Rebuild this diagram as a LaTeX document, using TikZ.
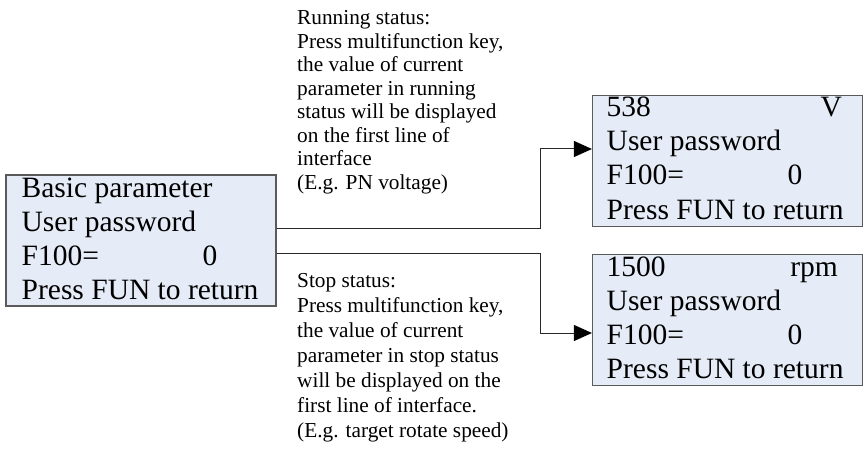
\documentclass[tikz,border=0pt]{standalone}
\usepackage{fontspec}
\setmainfont{Liberation Serif}
\usetikzlibrary{arrows.meta}
\definecolor{lcdfill}{RGB}{230,236,247}
\definecolor{lcdline}{RGB}{90,90,90}
\definecolor{connline}{RGB}{40,40,40}
\tikzset{
  lcd/.style={draw=lcdline, line width=1.2pt, fill=lcdfill, minimum width=270pt, minimum height=131pt, inner sep=0pt},
  lcdtxt/.style={inner sep=0pt, font=\fontsize{29.5}{34}\selectfont, text=black},
  note/.style={inner sep=0pt, align=left, anchor=base west, text=black},
  conn/.style={draw=connline, line width=1pt},
  arr/.style={conn, -{Triangle[length=18pt,width=16pt,color=black,fill=black]}}
}
\begin{document}
\begin{tikzpicture}[x=1pt,y=-1pt]
\useasboundingbox (0,0) rectangle (866,454);

% left display
\node[lcd] (b0) at (141,240.5) {};
\node[lcdtxt, anchor=base west] (b0l1) at (21.5,197) {Basic parameter};
\node[lcdtxt, anchor=base west] (b0l2) at (21.5,231) {User password};
\node[lcdtxt, anchor=base west] (b0l3) at (21.5,265) {F100=};
\node[lcdtxt, anchor=base] (b0v) at (210,265) {0};
\node[lcdtxt, anchor=base west] (b0l4) at (21.5,299) {Press FUN to return};

% right top display
\node[lcd] (rt) at (727.5,161) {};
\node[lcdtxt, anchor=base west] (rtl1) at (606.5,117) {538};
\node[lcdtxt, anchor=base east] (rtu) at (842,117) {V};
\node[lcdtxt, anchor=base west] (rtl2) at (606.5,151) {User password};
\node[lcdtxt, anchor=base west] (rtl3) at (606.5,185) {F100=};
\node[lcdtxt, anchor=base] (rtv) at (795,185) {0};
\node[lcdtxt, anchor=base west] (rtl4) at (606.5,219) {Press FUN to return};

% right bottom display
\node[lcd] (rb) at (727.5,320) {};
\node[lcdtxt, anchor=base west] (rbl1) at (606.5,276) {1500};
\node[lcdtxt, anchor=base east] (rbu) at (838,276) {rpm};
\node[lcdtxt, anchor=base west] (rbl2) at (606.5,310) {User password};
\node[lcdtxt, anchor=base west] (rbl3) at (606.5,344) {F100=};
\node[lcdtxt, anchor=base] (rbv) at (795,344) {0};
\node[lcdtxt, anchor=base west] (rbl4) at (606.5,378) {Press FUN to return};

% notes (base anchor = baseline of last line)
\node[note, font=\fontsize{21.3}{23.5}\selectfont] (run) at (297,189.5) {Running status:\\Press multifunction key,\\the value of current\\parameter in running\\status will be displayed\\on the first line of\\interface\\(E.g. PN voltage)};
\node[note, font=\fontsize{21.3}{25}\selectfont] (stop) at (297,437) {Stop status:\\Press multifunction key,\\the value of current\\parameter in stop status\\will be displayed on the\\first line of interface.\\(E.g. target rotate speed)};

% connectors
\coordinate (s1) at (b0.east |- 0,228);
\coordinate (s2) at (b0.east |- 0,253.5);
\coordinate (e1) at (rt.west |- 0,149);
\coordinate (e2) at (rb.west |- 0,333);
\draw[arr] (s1) -- (540,228) |- (e1);
\draw[arr] (s2) -- (540,253.5) |- (e2);
\end{tikzpicture}
\end{document}
